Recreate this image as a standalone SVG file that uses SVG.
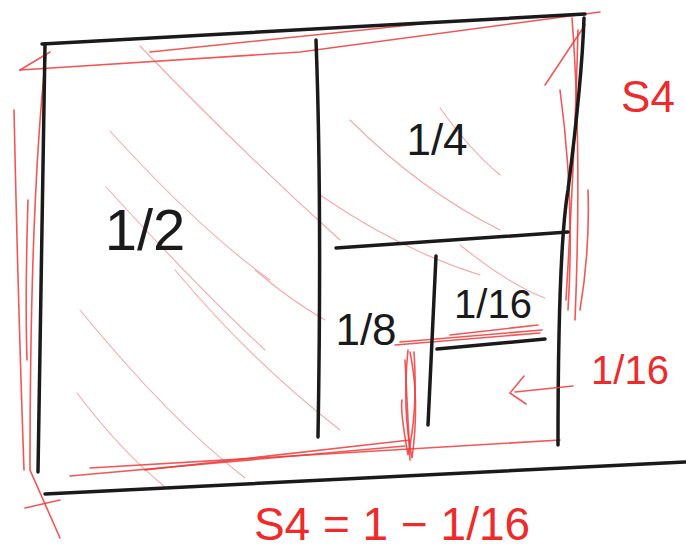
<svg xmlns="http://www.w3.org/2000/svg" width="686" height="556" viewBox="0 0 686 556">
<style>
.k{fill:none;stroke:#1a1a1a;stroke-width:3.5;stroke-linecap:round;stroke-linejoin:round}
.r{fill:none;stroke:#f03a3a;stroke-width:1.6;stroke-linecap:round;opacity:.85}
.rt{fill:none;stroke:#f4a8a8;stroke-width:1.1;stroke-linecap:round}
.tk{font-family:"Liberation Sans",Arial,sans-serif;fill:#1a1a1a}
.tr{font-family:"Liberation Sans",Arial,sans-serif;fill:#ee2a2a}
</style>
<rect width="686" height="556" fill="#fff"/>
<g id="hatching">
<path class="rt" d="M140 46 Q240 150 340 240"/>
<path class="rt" d="M110 131 Q200 230 270 280"/>
<path class="rt" d="M106 187 Q200 290 265 350"/>
<path class="rt" d="M80 310 Q170 420 245 478"/>
<path class="rt" d="M77 393 Q120 450 165 487"/>
<path class="rt" d="M175 270 Q250 360 340 430"/>
<path class="rt" d="M255 270 Q290 300 325 320"/>
<path class="rt" d="M350 120 Q420 190 500 230"/>
<path class="rt" d="M440 108 Q470 150 500 175"/>
<path class="rt" d="M320 195 Q400 250 480 275"/>
<path class="rt" d="M460 245 Q510 285 545 298"/>
</g>
<g id="red-outline">
<path class="r" d="M20 70 L50 52"/>
<path class="r" d="M20 70 L300 52 L600 12"/>
<path class="r" d="M150 52 L440 22"/>
<path class="r" d="M14 110 Q18 300 24 470"/>
<path class="r" d="M28 200 Q25 300 27 360"/>
<path class="r" d="M46 55 Q30 200 30 470 L60 538"/>
<path class="r" d="M25 508 L60 500"/>
<path class="r" d="M572 18 Q582 150 575 320"/>
<path class="r" d="M578 30 Q575 150 566 300"/>
<path class="r" d="M560 90 Q575 200 568 310"/>
<path class="r" d="M588 190 Q590 250 580 310"/>
<path class="r" d="M585 25 L545 85"/>
<path class="r" d="M145 470 L410 440"/>
<path class="r" d="M70 476 L405 446"/>
<path class="r" d="M90 468 L560 440"/>
<path class="r" d="M395 345 L540 333"/>
<path class="r" d="M400 342 L542 330"/>
<path class="r" d="M450 335 L538 325"/>
<path class="r" d="M408 350 Q402 410 412 458 Q420 400 410 352"/>
<path class="r" d="M414 352 Q418 410 408 455 Q400 410 402 400"/>
<path class="r" d="M405 360 L410 460"/>
</g>
<g id="frame">
<path class="k" d="M42 44 L585 14"/>
<path class="k" d="M45 44 L38 472"/>
<path class="k" d="M45 494 L685 462"/>
<path class="k" d="M584 18 Q582 80 568 190 Q558 250 558 445"/>
</g>
<g id="dividers">
<path class="k" d="M316 40 Q322 200 318 437"/>
<path class="k" d="M336 248 L568 232"/>
<path class="k" d="M436 256 L428 425"/>
<path class="k" d="M437 349 L545 339"/>
</g>
<g id="labels">
<text class="tk" x="145" y="250" font-size="58" text-anchor="middle">1/2</text>
<text class="tk" x="437" y="155" font-size="44" text-anchor="middle">1/4</text>
<text class="tk" x="366" y="345" font-size="44" text-anchor="middle">1/8</text>
<text class="tk" x="493" y="318" font-size="40" text-anchor="middle">1/16</text>
<text class="tr" x="648" y="112" font-size="44" text-anchor="middle">S4</text>
<text class="tr" x="630" y="384" font-size="40" text-anchor="middle">1/16</text>
<text class="tr" x="392" y="540" font-size="46" text-anchor="middle">S4 = 1 − 1/16</text>
</g>
<g id="connectors">
<path class="r" d="M573 386 L515 392" stroke-width="2.2"/>
<path class="r" d="M524 376 L510 393 L526 404" stroke-width="2.2"/>
</g>
</svg>
